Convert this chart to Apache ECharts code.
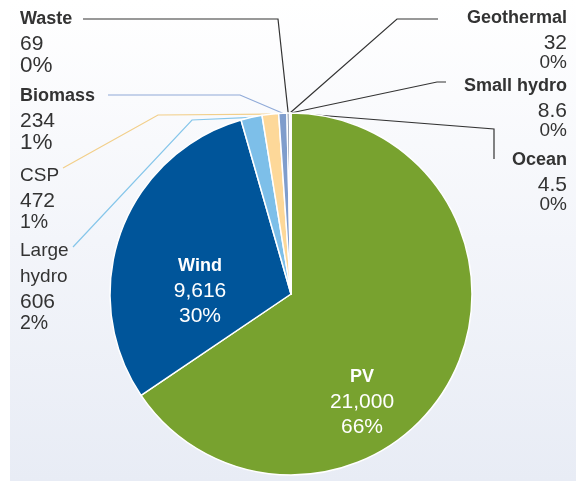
<!DOCTYPE html>
<html>
<head>
<meta charset="utf-8">
<script src="https://cdn.jsdelivr.net/npm/echarts@6/dist/echarts.min.js"></script>
<style>
  html, body { margin: 0; padding: 0; background: #ffffff; }
  #bg { position: absolute; left: 10px; top: 0; width: 566px; height: 481px;
        background: linear-gradient(to bottom, #ffffff 0%, #f3f5fa 50%, #e8ecf5 100%); }
  #chart { position: absolute; left: 0; top: 0; width: 576px; height: 481px; }
</style>
</head>
<body>
<div id="bg"></div>
<div id="chart"></div>
<script>
// ---- Data ----
const categories = ['PV', 'Wind', 'Large hydro', 'CSP', 'Biomass', 'Waste', 'Geothermal', 'Small hydro', 'Ocean'];
const values = [21000, 9616, 606, 472, 234, 69, 32, 8.6, 4.5];
const labelNames = ['PV', 'Wind', 'Large\nhydro', 'CSP', 'Biomass', 'Waste', 'Geothermal', 'Small hydro', 'Ocean'];

// ---- Styles ----
const colors = ['#78a22f', '#00559a', '#7dbfe9', '#fdd899', '#7f9dcc', '#5a6b86', '#6b7b8c', '#8a9bb0', '#9aa9bb'];
const lineColors = [null, null, '#86c6ea', '#f2cf8a', '#8faad8', '#333333', '#333333', '#333333', '#333333'];
const labelKind = ['in', 'in', 'L', 'L', 'L', 'L', 'R', 'R', 'R'];
const boldName = [true, true, false, false, true, true, true, true, true];
const pctSize = ['m', 'm', 'm', 'm', 'b', 'b', 's', 's', 's'];
const placement = [
  { x: 362, y: 402, align: 'center', va: 'middle' },
  { x: 200, y: 291, align: 'center', va: 'middle' },
  { x: 20, y: 238, align: 'left', va: 'top', line: [[192, 120], [73, 247]] },
  { x: 20, y: 163, align: 'left', va: 'top', line: [[158, 115], [63, 168]] },
  { x: 20, y: 83, align: 'left', va: 'top', line: [[240, 95], [108, 95]] },
  { x: 20, y: 6, align: 'left', va: 'top', line: [[278, 19], [83, 19]] },
  { x: 567, y: 5, align: 'right', va: 'top', line: [[397, 19], [438, 19]] },
  { x: 567, y: 73, align: 'right', va: 'top', line: [[437, 82], [446, 82]] },
  { x: 567, y: 147, align: 'right', va: 'top', line: [[494, 129], [494, 159]] }
];

const FONT = '"Liberation Sans", Arial, sans-serif';
function fmtNum(v) {
  return v >= 1000 ? v.toLocaleString('en-US') : String(v);
}

const rich = {};
['L', 'R', 'in'].forEach(function (k) {
  const al = k === 'L' ? 'left' : (k === 'R' ? 'right' : 'center');
  const inside = k === 'in';
  const col = inside ? '#ffffff' : '#333333';
  const lhN = inside ? 25 : 26, lhV = inside ? 25 : 24, lhP = inside ? 25 : (k === 'R' ? 16 : 20);
  rich['nb' + k] = { fontFamily: FONT, fontSize: 18, fontWeight: 'bold', color: col, lineHeight: lhN, align: al };
  rich['nr' + k] = { fontFamily: FONT, fontSize: 19, fontWeight: 'normal', color: col, lineHeight: lhN, align: al };
  rich['v' + k] = { fontFamily: FONT, fontSize: 21, color: col, lineHeight: lhV, align: al };
  rich['ps' + k] = { fontFamily: FONT, fontSize: 19, color: col, lineHeight: lhP, align: al };
  rich['pm' + k] = { fontFamily: FONT, fontSize: inside ? 21 : 19.5, color: col, lineHeight: lhP, align: al };
  rich['pb' + k] = { fontFamily: FONT, fontSize: 22.5, color: col, lineHeight: lhP, align: al };
});

const seriesData = categories.map(function (name, i) {
  const inside = labelKind[i] === 'in';
  return {
    name: name,
    value: values[i],
    itemStyle: { color: colors[i] },
    label: { position: inside ? 'inside' : 'outside' },
    labelLine: inside ? { show: false } : { show: true, lineStyle: { color: lineColors[i], width: 1.2 } }
  };
});

const chart = echarts.init(document.getElementById('chart'), null, { renderer: 'canvas' });
chart.setOption({
  animation: false,
  series: [{
    type: 'pie',
    center: [291, 294],
    radius: 181,
    startAngle: 90,
    clockwise: true,
    percentPrecision: 0,
    avoidLabelOverlap: false,
    silent: true,
    data: seriesData,
    itemStyle: { borderColor: '#ffffff', borderWidth: 1.5 },
    label: {
      show: true,
      formatter: function (p) {
        const i = p.dataIndex;
        const k = labelKind[i];
        const nameLines = labelNames[i].split('\n').map(function (s) {
          return '{' + (boldName[i] ? 'nb' : 'nr') + k + '|' + s + '}';
        });
        return nameLines.join('\n') + '\n{v' + k + '|' + fmtNum(values[i]) + '}\n{p' +
          pctSize[i] + k + '|' + p.percent + '%}';
      },
      rich: rich
    },
    labelLine: { show: true, smooth: false, length: 10, length2: 10 },
    labelLayout: function (params) {
      const P = placement[params.dataIndex];
      const out = { x: P.x, y: P.y, align: P.align, verticalAlign: P.va };
      if (P.line && params.labelLinePoints && params.labelLinePoints[0]) {
        out.labelLinePoints = [params.labelLinePoints[0].slice()].concat(P.line);
      }
      return out;
    }
  }]
});
</script>
</body>
</html>
